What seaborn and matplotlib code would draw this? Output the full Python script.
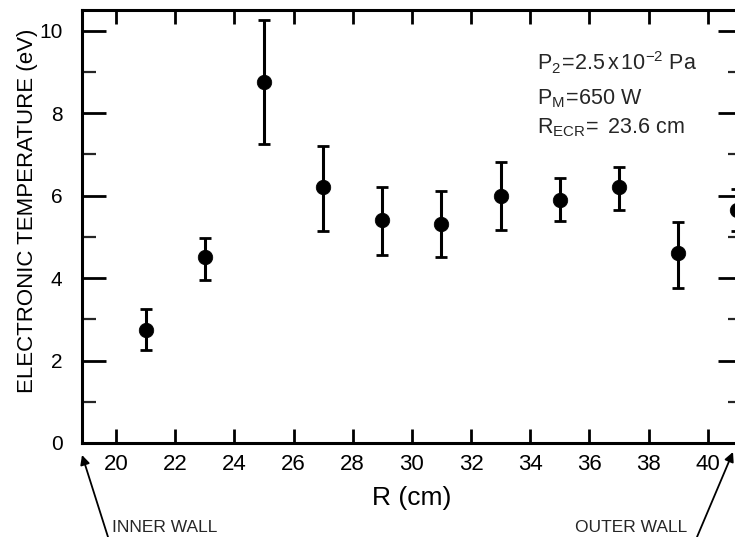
import matplotlib
matplotlib.use("Agg")
import matplotlib.pyplot as plt
from matplotlib.ticker import MultipleLocator
import seaborn as sns
import pandas as pd

# ---- data ----
R_cm = [21, 23, 25, 27, 29, 31, 33, 35, 37, 39, 41]
Te_eV = [2.75, 4.5, 8.75, 6.2, 5.4, 5.3, 6.0, 5.9, 6.2, 4.6, 5.65]
err_up = [0.5, 0.48, 1.5, 1.0, 0.8, 0.8, 0.82, 0.52, 0.5, 0.75, 0.5]
err_dn = [0.5, 0.55, 1.5, 1.05, 0.85, 0.8, 0.83, 0.52, 0.55, 0.83, 0.5]
x_ticks = [20, 22, 24, 26, 28, 30, 32, 34, 36, 38, 40]
y_ticks = [0, 2, 4, 6, 8, 10]

df = pd.DataFrame({"R": R_cm, "Te": Te_eV, "up": err_up, "dn": err_dn})

sns.set_style("ticks")
plt.rcParams["font.family"] = ["Liberation Sans", "DejaVu Sans"]
plt.rcParams["mathtext.fontset"] = "custom"
plt.rcParams["mathtext.rm"] = "Liberation Sans"
plt.rcParams["mathtext.it"] = "Liberation Sans"

W, H = 735, 537
fig = plt.figure(figsize=(W / 100, H / 100), dpi=100)
fig.patch.set_facecolor("white")
ax = fig.add_axes([82 / W, (H - 443) / H, 660 / W, 433 / H])
ax.set_facecolor("white")

ax.errorbar(df["R"], df["Te"], yerr=[df["dn"], df["up"]], fmt="none",
            ecolor="black", elinewidth=2.2, capsize=4.5, capthick=2.0, zorder=2)
sns.scatterplot(data=df, x="R", y="Te", ax=ax, color="black", s=110,
                edgecolor="black", linewidth=0.5, zorder=3, legend=False)

ax.set_xlim(18.85, 41.16)
ax.set_ylim(0, 10.5)
ax.set_xticks(x_ticks)
ax.set_yticks(y_ticks)
ax.yaxis.set_minor_locator(MultipleLocator(1))

for s in ax.spines.values():
    s.set_linewidth(2.2)
    s.set_color("black")

ax.tick_params(axis="x", which="major", direction="in", top=True, bottom=True,
               length=10, width=2, labelsize=16, pad=8, colors="black")
ax.tick_params(axis="y", which="major", direction="in", left=True, right=True,
               length=17, width=2, labelsize=15, pad=14, colors="black")
ax.tick_params(axis="y", which="minor", direction="in", left=True, right=True,
               length=10, width=1.6)

ax.set_xlabel("R (cm)", fontsize=19, labelpad=8, color="black")
ax.set_ylabel("ELECTRONIC TEMPERATURE (eV)", fontsize=16, color="black")
ax.yaxis.set_label_coords(-0.067, 0.536)

# parameter annotations (figure pixel positions, baseline)
def ftext(x, y, s, **kw):
    fig.text(x / W, 1 - y / H, s, va="baseline", ha="left", **kw)

ftext(537, 70, r"$\mathregular{P_2\!=\!2.5\,x\,10^{-2}\ Pa}$", fontsize=15.5)
ftext(537, 104, r"$\mathregular{P_M\!=\!650\ W}$", fontsize=15.5)
ftext(537, 133, r"$\mathregular{R_{ECR}\!=\ 23.6\ cm}$", fontsize=15.5)

# wall arrows
ax.annotate("", xy=(82, H - 455), xycoords="figure pixels",
            xytext=(108, 0), textcoords="figure pixels",
            arrowprops=dict(arrowstyle="-|>", color="black", lw=1.3,
                            mutation_scale=14, shrinkA=0, shrinkB=0),
            annotation_clip=False)
ax.annotate("", xy=(733, H - 452), xycoords="figure pixels",
            xytext=(697, 0), textcoords="figure pixels",
            arrowprops=dict(arrowstyle="-|>", color="black", lw=1.3,
                            mutation_scale=14, shrinkA=0, shrinkB=0),
            annotation_clip=False)
ftext(112, 532, "INNER WALL", fontsize=12.5)
ftext(575, 532, "OUTER WALL", fontsize=12.5)

fig.savefig("out.png", dpi=100, facecolor="white")
